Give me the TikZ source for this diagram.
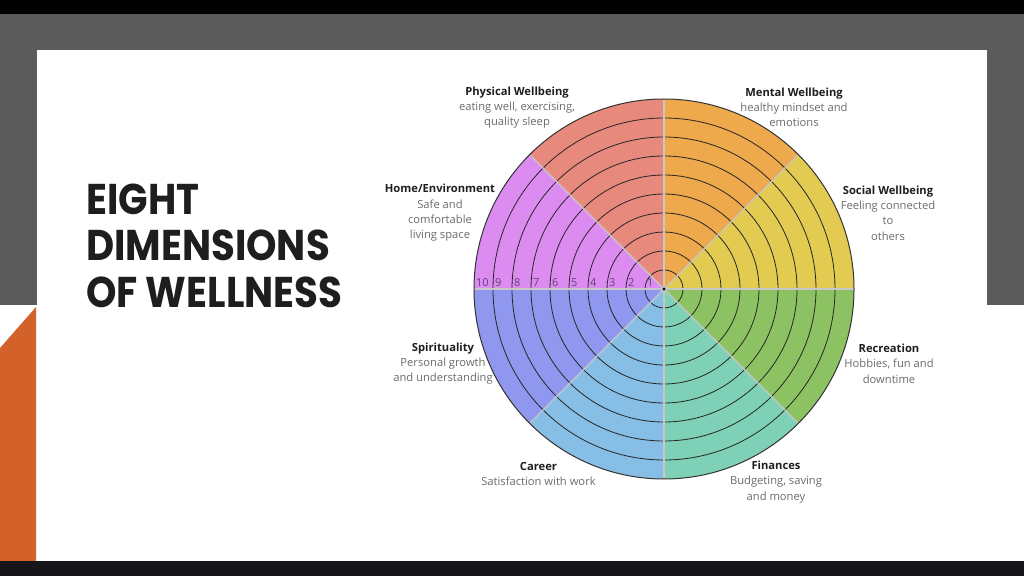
\documentclass[tikz,border=0pt]{standalone}
\usepackage{fontspec}
\setmainfont{Open Sans}
\newfontfamily\titlefont[FakeStretch=0.9]{Poppins}
\definecolor{bandgray}{HTML}{5B5B5B}
\definecolor{bottomdark}{HTML}{16161A}
\definecolor{accent}{HTML}{D2622A}
\definecolor{cPhys}{HTML}{E8897D}
\definecolor{cMent}{HTML}{EDA94C}
\definecolor{cSoc}{HTML}{E3CB52}
\definecolor{cRec}{HTML}{8DC263}
\definecolor{cFin}{HTML}{7ED0B7}
\definecolor{cCar}{HTML}{86BEE6}
\definecolor{cSpi}{HTML}{9097EE}
\definecolor{cHome}{HTML}{DC8CF0}
\definecolor{headc}{HTML}{1E1E1E}
\definecolor{descc}{HTML}{6B6B6B}
\definecolor{numc}{HTML}{5E4470}
\tikzset{
  ringline/.style={draw=black!85, line width=0.8pt},
  sepline/.style={draw=black!22, line width=1.2pt},
  outerline/.style={draw=black!80, line width=1pt},
  numlab/.style={font=\fontsize{11}{12}\selectfont, text=numc, inner sep=0pt},
  dimlab/.style={align=center, inner sep=0pt, font=\fontsize{11.2}{15.3}\selectfont, text=descc},
  titleline/.style={font=\titlefont\bfseries\fontsize{43}{46}\selectfont, text=headc, inner sep=0pt, anchor=base west}
}
\newcommand{\hd}[1]{{\bfseries\color{headc}#1}}
\begin{document}
\begin{tikzpicture}[x=1pt,y=1pt]
\useasboundingbox (0,0) rectangle (1024,576);
% background
\fill[black] (0,0) rectangle (1024,576);
\fill[bandgray] (0,271) rectangle (1024,562);
\fill[white] (0,15) rectangle (1024,271);
\fill[white] (37,15) rectangle (987,526);
\fill[accent] (0,15) -- (0,228) -- (36,269) -- (36,15) -- cycle;
\fill[bottomdark] (0,0) rectangle (1024,15);
% title
\node[titleline] (t1) at (86,361) {EIGHT};
\node[titleline] (t2) at (86,315) {DIMENSIONS};
\node[titleline] (t3) at (86,269) {OF WELLNESS};
% wheel
\coordinate (c) at (664,287);
\foreach \a/\col in {0/cSoc,45/cMent,90/cPhys,135/cHome,180/cSpi,225/cCar,270/cFin,315/cRec}{
  \fill[\col] (c) -- ++(\a:190) arc[start angle=\a, end angle=\a+45, radius=190] -- cycle;
}
\foreach \k in {1,...,9}{
  \draw[ringline] (c) circle ({19*\k});
}
\foreach \a in {0,45,...,315}{
  \draw[sepline] (c) -- ++(\a:190);
}
\draw[outerline] (c) circle (190);
\fill[black] (c) circle (1.6);
\foreach \k in {1,...,10}{
  \node[numlab, anchor=base west] (n\k) at ({664-19*\k+1.8},289.5) {\k};
}
% labels
\node[dimlab] (phys) at (517,468.6) {\hd{Physical Wellbeing}\\eating well, exercising,\\quality sleep};
\node[dimlab] (ment) at (794,468.6) {\hd{Mental Wellbeing}\\healthy mindset and\\emotions};
\node[dimlab] (home) at (440,363.2) {\hd{Home/Environment}\\Safe and\\comfortable\\living space};
\node[dimlab] (soc) at (888,363) {\hd{Social Wellbeing}\\Feeling connected\\to\\others};
\node[dimlab] (spi) at (443,212.3) {\hd{Spirituality}\\Personal growth\\and understanding};
\node[dimlab] (rec) at (889,212.5) {\hd{Recreation}\\Hobbies, fun and\\downtime};
\node[dimlab] (car) at (538.5,101.7) {\hd{Career}\\Satisfaction with work};
\node[dimlab] (fin) at (776,94.1) {\hd{Finances}\\Budgeting, saving\\and money};
\end{tikzpicture}
\end{document}
